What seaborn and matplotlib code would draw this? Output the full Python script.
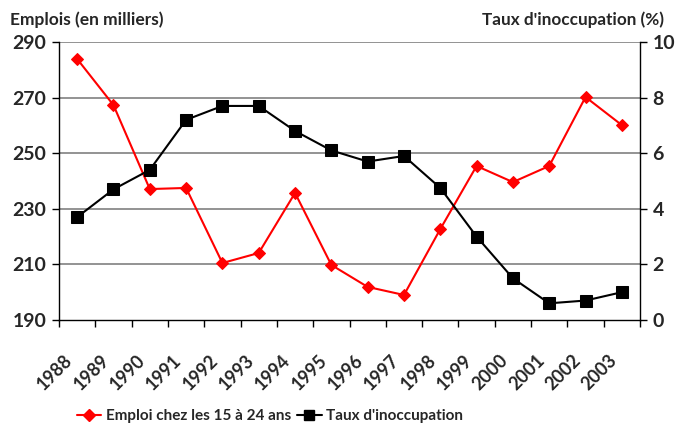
import matplotlib
matplotlib.use("Agg")
import matplotlib.pyplot as plt
import matplotlib.transforms as mtransforms
from matplotlib.lines import Line2D
from matplotlib.font_manager import FontProperties
import seaborn as sns
import pandas as pd

years = ["1988", "1989", "1990", "1991", "1992", "1993", "1994", "1995",
         "1996", "1997", "1998", "1999", "2000", "2001", "2002", "2003"]
emploi_15_24 = [283.9, 267.3, 237.1, 237.5, 210.5, 214.1, 235.7, 209.8,
                201.9, 199.0, 222.7, 245.4, 239.6, 245.4, 270.2, 260.1]
taux_inoccupation = [3.7, 4.7, 5.4, 7.2, 7.7, 7.7, 6.8, 6.1,
                     5.7, 5.9, 4.75, 3.0, 1.5, 0.6, 0.7, 1.0]
left_ticks = [190, 210, 230, 250, 270, 290]
right_ticks = [0, 2, 4, 6, 8, 10]

sns.set_theme(style="white")
plt.rcParams["font.family"] = "Lato"
plt.rcParams["font.weight"] = "bold"

FONT = "Lato"

df = pd.DataFrame({"annee": years, "emploi": emploi_15_24, "taux": taux_inoccupation})
df["pos"] = range(len(years))

fig = plt.figure(figsize=(6.76, 4.29), dpi=100)
ax = fig.add_axes([59 / 676, 1 - 320 / 429, 581 / 676, 278 / 429])
ax2 = ax.twinx()

# employment (left axis)
sns.lineplot(data=df, x="pos", y="emploi", ax=ax, color="#ff0000", lw=1.5,
             marker="D", markersize=6, markeredgecolor="#ff0000", zorder=3)
# rate (right axis)
sns.lineplot(data=df, x="pos", y="taux", ax=ax2, color="black", lw=1.5,
             marker="s", markersize=8, markeredgecolor="black", zorder=3)

ax.set_xlim(-0.5, len(years) - 0.5)
ax.set_ylim(190, 290)
ax2.set_ylim(0, 10)
ax.set_yticks(left_ticks)
ax2.set_yticks(right_ticks)
ax.set_yticklabels([str(t) for t in left_ticks], family=FONT, fontsize=14, fontweight="bold")
ax2.set_yticklabels([str(t) for t in right_ticks], family=FONT, fontsize=14, fontweight="bold")

# horizontal gridlines
for t in left_ticks[1:]:
    ax.axhline(t, color="#808080", lw=1.2, zorder=1)

# category boundary ticks on the x axis
ax.set_xticks([i - 0.5 for i in range(len(years) + 1)], minor=False)
ax.set_xticklabels([])
ax.tick_params(axis="x", direction="out", length=5, width=1, color="black", bottom=True)
ax.tick_params(axis="y", direction="out", length=5, width=1, color="black", left=True, pad=4)
ax2.tick_params(axis="y", direction="out", length=5, width=1, color="black", right=True, pad=4)

for a in (ax, ax2):
    a.set_xlabel("")
    a.set_ylabel("")
    a.spines["top"].set_visible(False)
    for s in ("left", "right", "bottom"):
        a.spines[s].set_color("black")
        a.spines[s].set_linewidth(1)
ax.spines["right"].set_visible(False)
ax2.spines["left"].set_visible(False)
ax2.spines["bottom"].set_visible(False)

# rotated year labels
offset = mtransforms.ScaledTranslation(-9.6 / 72, -22.8 / 72, fig.dpi_scale_trans)
for i, y in enumerate(years):
    ax.text(i, 190, y, rotation=45, ha="right", va="top", rotation_mode="anchor",
            family=FONT, fontsize=13, fontweight="bold", transform=ax.transData + offset)

fig.text(10 / 676, 1 - 20 / 429, "Emplois (en milliers)", family=FONT, fontsize=12.5,
         fontweight="bold", ha="left", va="center")
fig.text(664 / 676, 1 - 20 / 429, "Taux d'inoccupation (%)", family=FONT, fontsize=12.3,
         fontweight="bold", ha="right", va="center")

handles = [
    Line2D([], [], color="#ff0000", lw=1.5, marker="D", markersize=6),
    Line2D([], [], color="black", lw=1.5, marker="s", markersize=7),
]
fig.legend(handles, ["Emploi chez les 15 à 24 ans", "Taux d'inoccupation"],
           loc="center", bbox_to_anchor=(270 / 676, 1 - 416 / 429), ncol=2,
           frameon=False, handlelength=1.6, handletextpad=0.3, columnspacing=0.4,
           prop=FontProperties(family=FONT, weight="bold", size=11.0))

fig.savefig("out.png", dpi=100)
